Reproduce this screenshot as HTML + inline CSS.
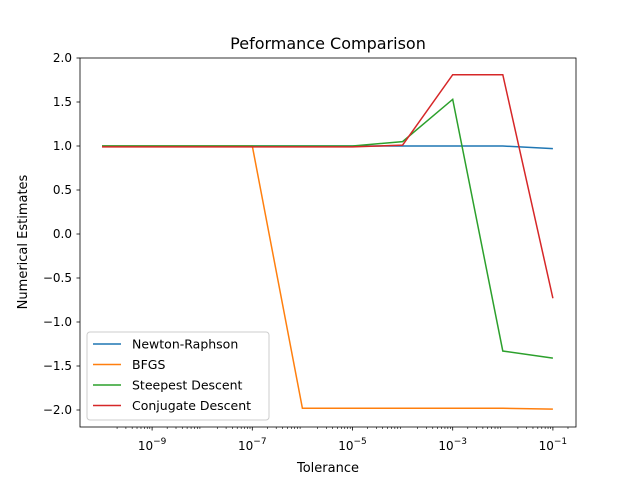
<!DOCTYPE html>
<html><head><meta charset="utf-8"><style>body{margin:0;background:#fff}svg{display:block;font-family:"DejaVu Sans","Liberation Sans",sans-serif}</style></head>
<body>
<svg id="c" width="640" height="480">
<text x="328" y="49" font-size="16" text-anchor="middle">Peformance Comparison</text>
<text x="328" y="472" font-size="13" text-anchor="middle">Tolerance</text>
<text x="27" y="242" font-size="13" text-anchor="middle" transform="rotate(-90 27 242)">Numerical Estimates</text>
<g id="marks"></g>
<rect x="80" y="58" width="496" height="369" fill="none" stroke="#000" stroke-width="0.8"/>
</svg>
<script>
const xs=[-10,-9,-8,-7,-6,-5,-4,-3,-2,-1];
const newton=[1,1,1,1,1,1,1,1,1,0.97];
const bfgs=[1,1,1,1,-1.98,-1.98,-1.98,-1.98,-1.98,-1.99];
const steepest=[1,1,1,1,1,1,1.05,1.53,-1.33,-1.41];
const conjugate=[0.99,0.99,0.99,0.99,0.99,0.99,1.01,1.81,1.81,-0.73];
const yTicks=[-2,-1.5,-1,-0.5,0,0.5,1,1.5,2];
const xTicks=[-9,-7,-5,-3,-1];
const names=["Newton-Raphson","BFGS","Steepest Descent","Conjugate Descent"];
const colors=["#1f77b4","#ff7f0e","#2ca02c","#d62728"];
const X=e=>102+(e+10)*50.1, Y=v=>234-v*88;
const NS="http://www.w3.org/2000/svg";
const g=document.getElementById('marks');
function mk(t,a){const e=document.createElementNS(NS,t);for(const k in a)e.setAttribute(k,a[k]);g.appendChild(e);return e;}
yTicks.forEach(v=>{
 const l=mk('line',{x1:76.5,x2:80,y1:Y(v),y2:Y(v),stroke:'#000','stroke-width':0.8});
 
 
 const t=mk('text',{x:72,y:Y(v)+4,'font-size':12,'text-anchor':'end'});
 t.textContent=(v<0?'\u2212':'')+Math.abs(v).toFixed(1);
 
 
});
for(let e=-10;e<=-1;e++){for(let m=2;m<10;m++){const xx=X(e+Math.log10(m));if(xx<576){const l=mk('line',{x1:xx,x2:xx,y1:427,y2:429,stroke:'#000','stroke-width':0.6});
 
 }}}
xTicks.forEach(e=>{
 const l=mk('line',{x1:X(e),x2:X(e),y1:427,y2:430.5,stroke:'#000','stroke-width':0.8});
 
 
 const t=mk('text',{x:X(e),y:450,'font-size':12,'text-anchor':'middle'});
 t.innerHTML='10<tspan dy="-6" font-size="9">\u2212'+Math.abs(e)+'</tspan>';
 
 
});
[newton,bfgs,steepest,conjugate].forEach((s,i)=>{
 const p=mk('polyline',{points:s.map((v,j)=>X(xs[j])+','+Y(v)).join(' '),fill:'none',stroke:colors[i],'stroke-width':1.5});
 
 
});
const lg=mk('rect',{x:87,y:332,width:182,height:88,rx:3,fill:'#fff','fill-opacity':0.8,stroke:'#ccc'});


names.forEach((n,i)=>{
 const y=344+i*20.5;
 const l=mk('line',{x1:93,x2:121,y1:y,y2:y,stroke:colors[i],'stroke-width':1.5});
 
 
 const t=mk('text',{x:132,y:y+4.5,'font-size':12.5});
 t.textContent=n;
 
 
});
</script>
</body></html>
